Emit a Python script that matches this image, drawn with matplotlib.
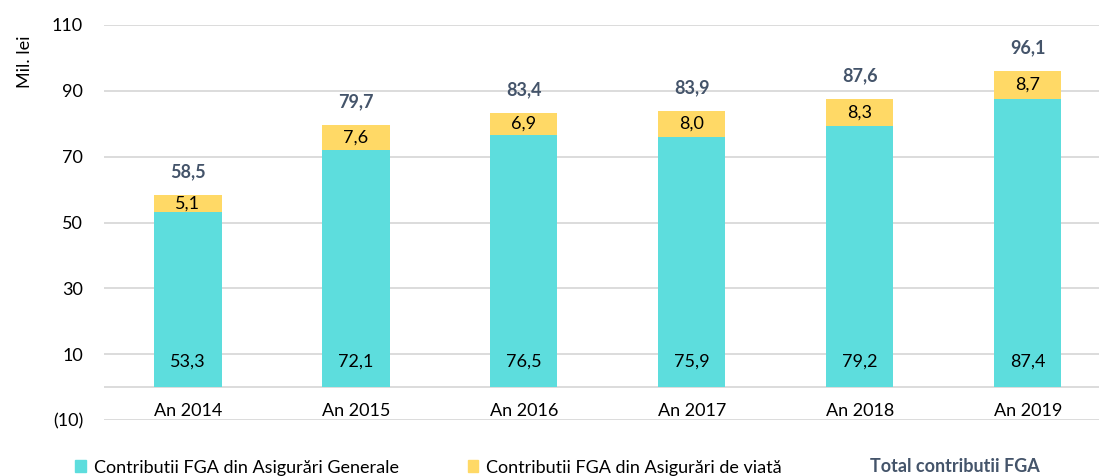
import numpy as np
import matplotlib
matplotlib.use("Agg")
import matplotlib.pyplot as plt
from matplotlib.patches import Patch

# contributii FGA, mil. lei
years = ["An 2014", "An 2015", "An 2016", "An 2017", "An 2018", "An 2019"]
generale = [53.3, 72.1, 76.5, 75.9, 79.2, 87.4]
viata = [5.1, 7.6, 6.9, 8.0, 8.3, 8.7]
total = [58.5, 79.7, 83.4, 83.9, 87.6, 96.1]
y_ticks = [-10, 10, 30, 50, 70, 90, 110]

CYAN = "#5DDDDD"
YELLOW = "#FFD966"
SLATE = "#44546A"
GRID = "#D9D9D9"

plt.rcParams["font.family"] = ["Lato", "DejaVu Sans"]
plt.rcParams["font.size"] = 13


def fmt(v):
    return f"{v:.1f}".replace(".", ",")


def fmt_tick(v):
    return f"({abs(int(v))})" if v < 0 else f"{int(v)}"


fig = plt.figure(figsize=(10.99, 4.76), dpi=100)
ax = fig.add_axes([0.0946, 0.1176, 0.917, 0.8299])

x = np.arange(len(years))
width = 0.4
ax.bar(x, generale, width, color=CYAN, zorder=3)
ax.bar(x, viata, width, bottom=generale, color=YELLOW, zorder=3)

for i in range(len(years)):
    ax.annotate(fmt(generale[i]), (x[i], 0), xytext=(0, 18), textcoords="offset points",
                ha="center", va="center", color="black", zorder=4)
    ax.annotate(fmt(viata[i]), (x[i], generale[i] + viata[i] / 2), ha="center", va="center",
                color="black", zorder=4)
    ax.annotate(fmt(total[i]), (x[i], total[i]), xytext=(0, 16.5), textcoords="offset points",
                ha="center", va="center", color=SLATE, fontweight="bold", zorder=4)
    ax.text(x[i], -7.3, years[i], ha="center", va="center")

ax.set_xlim(-0.5, len(years) - 0.5)
ax.set_ylim(-10, 110)
ax.set_yticks(y_ticks)
ax.set_yticklabels([fmt_tick(v) for v in y_ticks])
ax.tick_params(axis="y", length=0, pad=15)
ax.set_xticks([])
ax.grid(axis="y", color=GRID, linewidth=1.3, zorder=0)
ax.axhline(0, color=GRID, linewidth=1.3, zorder=2)
for s in ax.spines.values():
    s.set_visible(False)

fig.text(25 / 1099, 1 - 62 / 476, "Mil. lei", rotation=90, ha="center", va="center")

handles = [Patch(color=CYAN), Patch(color=YELLOW), Patch(color="none")]
labels = ["Contributii FGA din Asigurări Generale", "Contributii FGA din Asigurări de viată",
          "Total contributii FGA"]
leg = fig.legend(handles, labels, loc="center", bbox_to_anchor=(0.507, 1 - 467 / 476), ncol=3,
                 frameon=False, handlelength=0.6, handleheight=0.6, handletextpad=0.45,
                 columnspacing=3.8)
leg.get_texts()[2].set_color(SLATE)
leg.get_texts()[2].set_fontweight("bold")

fig.savefig("out.png", dpi=100)
